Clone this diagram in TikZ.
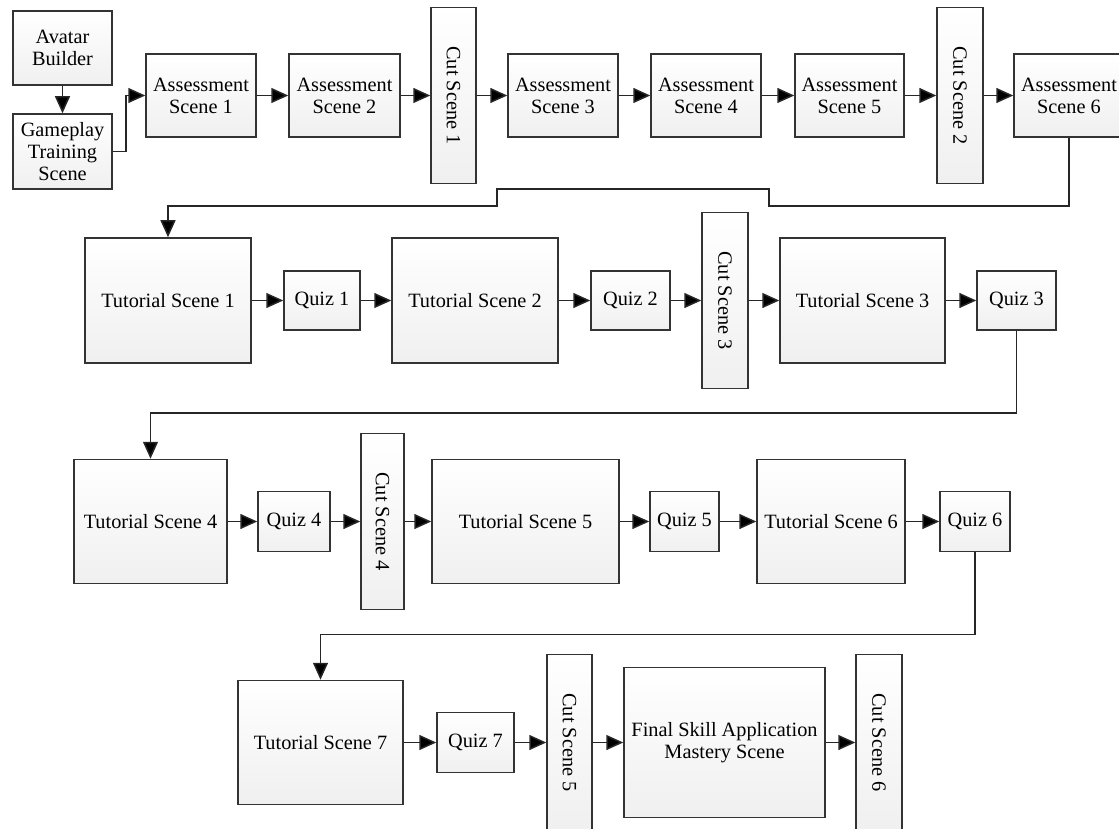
\documentclass[tikz,border=0pt]{standalone}
\usepackage{fontspec}
\setmainfont{Liberation Serif}
\usetikzlibrary{arrows.meta}
\newcommand\boxfont{\fontsize{20.3}{22}\selectfont}
\tikzset{
  box/.style={draw=black!80, line width=1.5pt, top color=white, bottom color=black!6,
    inner sep=0pt, align=center, font=\boxfont, text=black},
  cutbox/.style={box},
  arr/.style={draw=black!85, line width=1.5pt, -{Triangle[length=17pt,width=15pt,fill=black]}},
}
\newcommand\cuttext[1]{\rotatebox[origin=c]{-90}{#1}}
\begin{document}
\begin{tikzpicture}[x=1pt,y=-1pt]
\useasboundingbox (0,0) rectangle (1119,829);
% row 1
\node[box, minimum width=99, minimum height=74] (avatar) at (62.5,48) {Avatar\\Builder};
\node[box, minimum width=99, minimum height=75] (game) at (62.5,151.5) {Gameplay\\Training\\Scene};
\node[box, minimum width=110, minimum height=83] (as1) at (201,95.5) {Assessment\\Scene 1};
\node[box, minimum width=111, minimum height=83] (as2) at (344.5,95.5) {Assessment\\Scene 2};
\node[cutbox, minimum width=45, minimum height=176] (cs1) at (453.5,95.5) {\cuttext{Cut Scene 1}};
\node[box, minimum width=110, minimum height=83] (as3) at (563,95.5) {Assessment\\Scene 3};
\node[box, minimum width=110, minimum height=83] (as4) at (706,95.5) {Assessment\\Scene 4};
\node[box, minimum width=109, minimum height=83] (as5) at (849.5,95.5) {Assessment\\Scene 5};
\node[cutbox, minimum width=46, minimum height=176] (cs2) at (960,95.5) {\cuttext{Cut Scene 2}};
\node[box, minimum width=110, minimum height=83] (as6) at (1069,95.5) {Assessment\\Scene 6};
% row 2
\node[box, minimum width=166, minimum height=125] (ts1) at (168,300.5) {Tutorial Scene 1};
\node[box, minimum width=76, minimum height=59] (q1) at (322,300.5) {Quiz 1};
\node[box, minimum width=166, minimum height=125] (ts2) at (475,300.5) {Tutorial Scene 2};
\node[box, minimum width=79, minimum height=59] (q2) at (630.5,300.5) {Quiz 2};
\node[cutbox, minimum width=46, minimum height=176] (cs3) at (725,300.5) {\cuttext{Cut Scene 3}};
\node[box, minimum width=165, minimum height=125] (ts3) at (862.5,300.5) {Tutorial Scene 3};
\node[box, minimum width=79, minimum height=59] (q3) at (1016.5,300.5) {Quiz 3};
% row 3
\node[box, minimum width=153, minimum height=124] (ts4) at (150.5,521.5) {Tutorial Scene 4};
\node[box, minimum width=72, minimum height=60] (q4) at (294,521.5) {Quiz 4};
\node[cutbox, minimum width=43, minimum height=176] (cs4) at (382.5,521.5) {\cuttext{Cut Scene 4}};
\node[box, minimum width=187, minimum height=124] (ts5) at (525.5,521.5) {Tutorial Scene 5};
\node[box, minimum width=69, minimum height=60] (q5) at (684.5,521.5) {Quiz 5};
\node[box, minimum width=148, minimum height=124] (ts6) at (831,521.5) {Tutorial Scene 6};
\node[box, minimum width=70, minimum height=60] (q6) at (975,521.5) {Quiz 6};
% row 4
\node[box, minimum width=165, minimum height=124] (ts7) at (320.5,742.5) {Tutorial Scene 7};
\node[box, minimum width=77, minimum height=60] (q7) at (475.5,742.5) {Quiz 7};
\node[cutbox, minimum width=45, minimum height=176] (cs5) at (569.5,742.5) {\cuttext{Cut Scene 5}};
\node[box, minimum width=201, minimum height=150] (fin) at (724.5,742.5) {Final Skill Application\\Mastery Scene};
\node[cutbox, minimum width=46, minimum height=176] (cs6) at (879,742.5) {\cuttext{Cut Scene 6}};
% bend points
\coordinate (j1) at (769,206);
\coordinate (j2) at (769,189);
\coordinate (j3) at (497,189);
\coordinate (j4) at (497,206);
% connectors row 1
\draw[arr] (avatar) -- (game);
\draw[arr] (game.east) -- ++(13,0) |- (as1.west);
\draw[arr] (as1) -- (as2);
\draw[arr] (as2) -- (cs1);
\draw[arr] (cs1) -- (as3);
\draw[arr] (as3) -- (as4);
\draw[arr] (as4) -- (as5);
\draw[arr] (as5) -- (cs2);
\draw[arr] (cs2) -- (as6);
\draw[arr] (as6.south) |- (j1) -- (j2) -- (j3) -- (j4) -| (ts1.north);
% row 2
\draw[arr] (ts1) -- (q1);
\draw[arr] (q1) -- (ts2);
\draw[arr] (ts2) -- (q2);
\draw[arr] (q2) -- (cs3);
\draw[arr] (cs3) -- (ts3);
\draw[arr] (ts3) -- (q3);
\draw[arr] (q3.south) -- ++(0,82) -| (ts4.north);
% row 3
\draw[arr] (ts4) -- (q4);
\draw[arr] (q4) -- (cs4);
\draw[arr] (cs4) -- (ts5);
\draw[arr] (ts5) -- (q5);
\draw[arr] (q5) -- (ts6);
\draw[arr] (ts6) -- (q6);
\draw[arr] (q6.south) -- ++(0,82) -| (ts7.north);
% row 4
\draw[arr] (ts7) -- (q7);
\draw[arr] (q7) -- (cs5);
\draw[arr] (cs5) -- (fin);
\draw[arr] (fin) -- (cs6);
\end{tikzpicture}
\end{document}
